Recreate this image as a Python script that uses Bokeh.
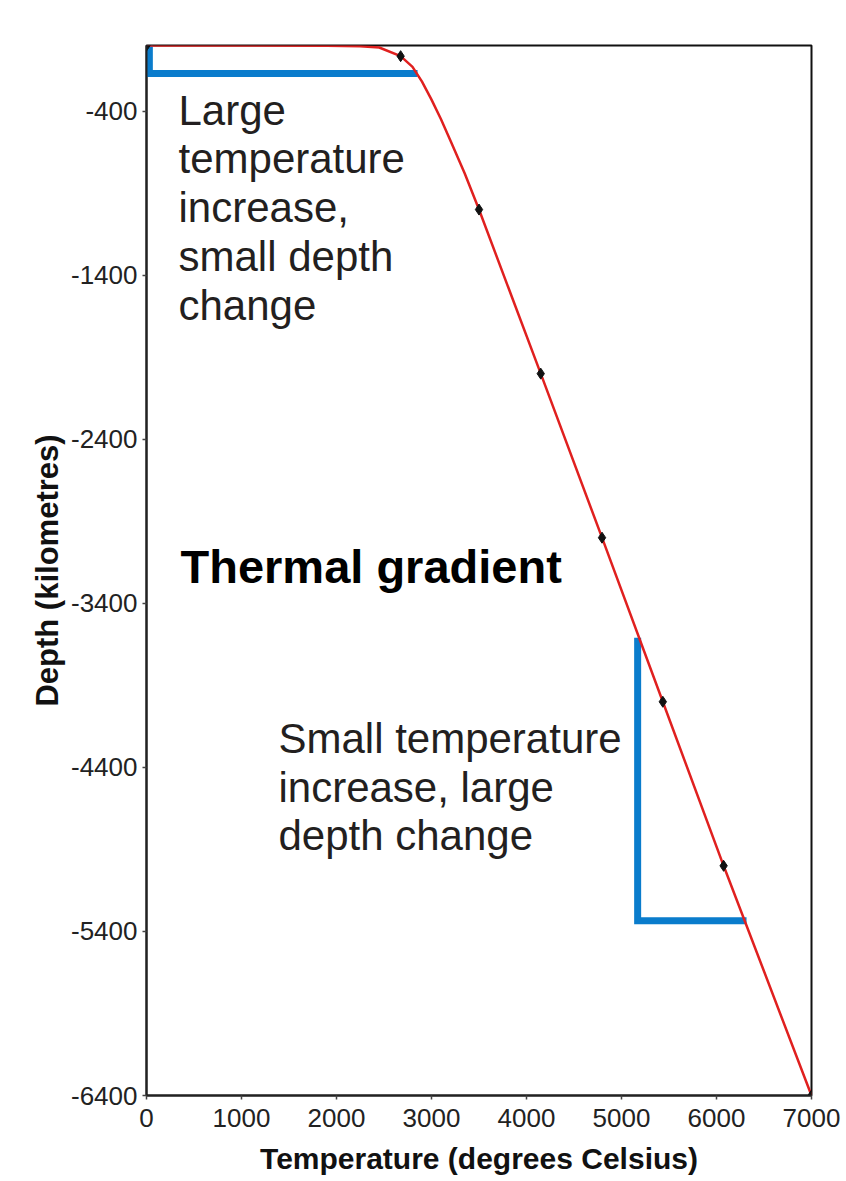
from bokeh.plotting import figure
from bokeh.models import Range1d, FixedTicker
from bokeh.core.properties import value
from bokeh.embed import file_html
from bokeh.resources import INLINE

# ---- data ----
curve_temperature = [0, 1000, 1900, 2250, 2450, 2675, 2800, 2900, 3000, 3100, 3200, 3350, 3500,
                     4150, 4795, 5435, 6075, 7000]
curve_depth = [0, 0, -2, -5, -12, -65, -130, -220, -330, -450, -580, -780, -1000,
               -2000, -3000, -4000, -5000, -6400]

marker_temperature = [0, 2675, 3500, 4150, 4795, 5435, 6075, 7000]
marker_depth = [0, -65, -1000, -2000, -3000, -4000, -5000, -6400]

bracket_top_temperature = [30, 30, 2853]
bracket_top_depth = [0, -171, -171]
bracket_bottom_temperature = [5170, 5170, 6316]
bracket_bottom_depth = [-3610, -5335, -5335]

x_ticks = [0, 1000, 2000, 3000, 4000, 5000, 6000, 7000]
y_ticks = [-400, -1400, -2400, -3400, -4400, -5400, -6400]
y_tick_labels = ["-400", "-1400", "-2400", "-3400", "-4400", "-5400", "-6400"]

note_texts = ["Large\ntemperature\nincrease,\nsmall depth\nchange",
              "Small temperature\nincrease, large\ndepth change"]
note_x = [337, 1389]
note_y = [-250, -4079]
title_text = ["Thermal gradient"]
title_x = [358]
title_y = [-3012]

FONT = "Liberation Sans"

p = figure(width=846, height=1181, output_backend="svg", toolbar_location=None,
           x_range=Range1d(0, 7000), y_range=Range1d(-6400, 0),
           min_border_left=146, min_border_right=35, min_border_top=45, min_border_bottom=86,
           background_fill_color="white", border_fill_color="white")

p.grid.visible = False
p.outline_line_color = "#111111"
p.outline_line_width = 2

p.xaxis.ticker = FixedTicker(ticks=x_ticks)
p.yaxis.ticker = FixedTicker(ticks=y_ticks)
p.yaxis.major_label_overrides = {t: l for t, l in zip(y_ticks, y_tick_labels)}
p.xaxis.major_label_overrides = {t: str(t) for t in x_ticks}

for ax in (p.xaxis[0], p.yaxis[0]):
    ax.axis_line_color = "#222222"
    ax.axis_line_width = 2
    ax.major_tick_line_color = "#444444"
    ax.major_tick_line_width = 1.5
    ax.major_tick_out = 4
    ax.major_tick_in = 0
    ax.minor_tick_line_color = None
    ax.major_label_text_font = FONT
    ax.major_label_text_font_size = "26px"
    ax.major_label_text_color = "#222222"
    ax.axis_label_text_font = FONT
    ax.axis_label_text_font_style = "bold"
    ax.axis_label_text_color = "#111111"

p.xaxis.axis_label = "Temperature (degrees Celsius)"
p.yaxis.axis_label = "Depth (kilometres)"
p.xaxis.axis_label_text_font_size = "30px"
p.yaxis.axis_label_text_font_size = "31px"
p.xaxis.major_label_standoff = 9
p.yaxis.major_label_standoff = 5
p.xaxis.axis_label_standoff = 12
p.yaxis.axis_label_standoff = 3

# blue brackets
p.line(bracket_top_temperature, bracket_top_depth, line_color="#0a7ccc", line_width=7, line_join="miter")
p.line(bracket_bottom_temperature, bracket_bottom_depth, line_color="#0a7ccc", line_width=7, line_join="miter")

# thermal gradient curve
p.line(curve_temperature, curve_depth, line_color="#e0201f", line_width=2.5)
p.scatter(marker_temperature, marker_depth, marker="diamond", size=11, color="#111111")

# texts
p.text(note_x, note_y, text=note_texts, text_font=value(FONT), text_font_size="42px",
       text_color="#231f20", text_baseline="top", text_align="left", text_line_height=1.04)
p.text(title_x, title_y, text=title_text, text_font=value(FONT), text_font_size="47px",
       text_font_style="bold", text_color="#000000", text_baseline="top", text_align="left")

open("out.html", "w").write(file_html(p, INLINE))
